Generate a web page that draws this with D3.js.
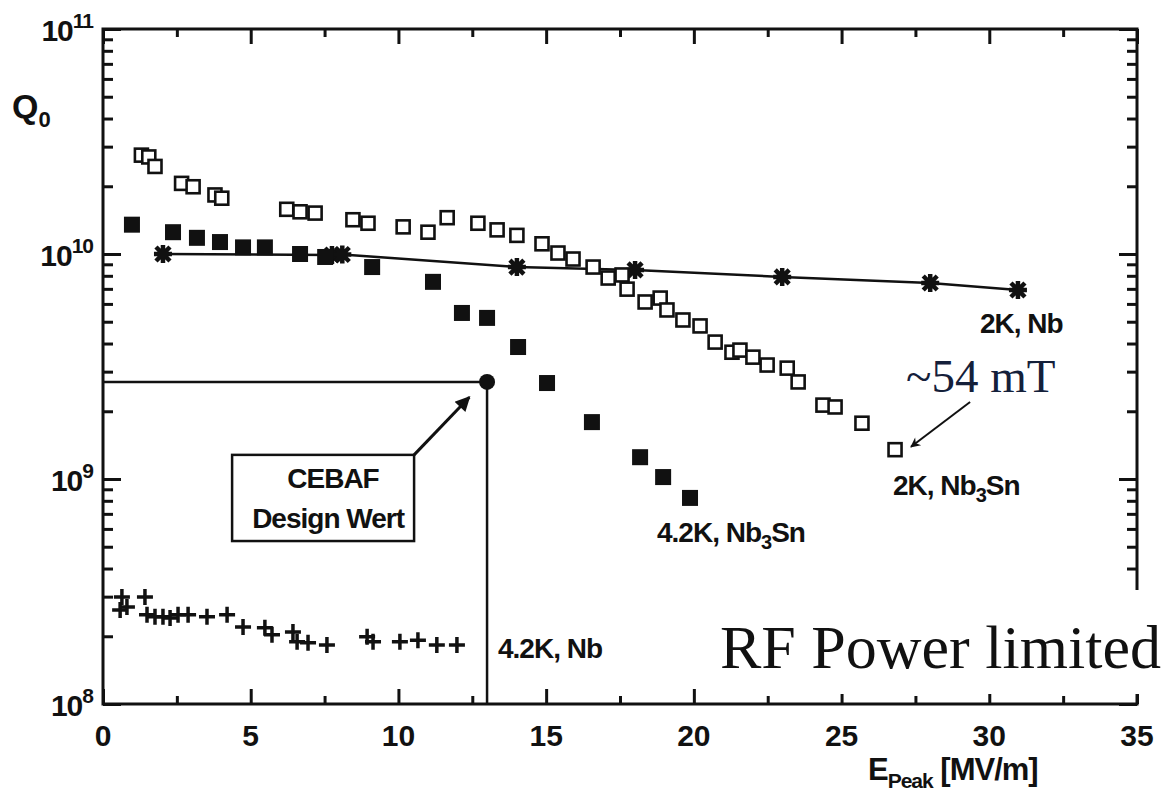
<!DOCTYPE html>
<html>
<head>
<meta charset="utf-8">
<script src="https://cdn.jsdelivr.net/npm/d3@7"></script>
<style>
  html, body { margin: 0; padding: 0; background: #fff; }
  svg text { font-family: "Liberation Sans", Arial, sans-serif; font-weight: bold; fill: #111; }
  .serif { font-family: "Liberation Serif", "Times New Roman", serif !important; font-weight: normal !important; }
</style>
</head>
<body>
<svg id="chart" width="1172" height="792"></svg>
<script>
// Q0 vs E_peak
// [E_peak in MV/m, Q0]
const nb3sn2K = [
  [1.3, 2.75e10], [1.55, 2.7e10], [1.76, 2.45e10], [2.66, 2.06e10], [3.05, 1.99e10],
  [3.79, 1.83e10], [4.02, 1.77e10], [6.22, 1.58e10], [6.67, 1.54e10], [7.18, 1.52e10],
  [8.46, 1.42e10], [8.97, 1.37e10], [10.16, 1.32e10], [11.0, 1.25e10], [11.65, 1.45e10],
  [12.69, 1.37e10], [13.34, 1.28e10], [14.01, 1.21e10], [14.86, 1.11e10], [15.4, 1.01e10],
  [15.91, 9.5e9], [16.59, 8.75e9], [17.1, 7.82e9], [17.57, 8.07e9], [17.74, 6.98e9],
  [18.35, 6.12e9], [18.86, 6.37e9], [19.09, 5.64e9], [19.63, 5.09e9], [20.21, 4.79e9],
  [20.72, 4.06e9], [21.29, 3.66e9], [21.56, 3.74e9], [22.0, 3.48e9], [22.48, 3.21e9],
  [23.16, 3.11e9], [23.53, 2.7e9], [24.37, 2.13e9], [24.78, 2.09e9], [25.69, 1.77e9],
  [26.81, 1.35e9]
];
const nb3sn42K = [
  [0.98, 1.35e10], [2.37, 1.25e10], [3.18, 1.18e10], [3.96, 1.13e10], [4.74, 1.07e10],
  [5.48, 1.07e10], [6.67, 1.0e10], [7.52, 9.7e9], [9.11, 8.75e9], [11.17, 7.52e9],
  [12.15, 5.47e9], [13.0, 5.2e9], [14.05, 3.86e9], [15.03, 2.67e9], [16.55, 1.79e9],
  [18.18, 1.25e9], [18.96, 1.02e9], [19.87, 8.24e8]
];
const nb2K = [
  [2.03, 1.0e10], [7.75, 9.9e9], [8.1, 9.95e9], [14.01, 8.75e9], [18.01, 8.5e9],
  [22.99, 7.91e9], [28.0, 7.43e9], [30.97, 6.92e9]
];
const nb42K = [
  [0.64, 2.99e8], [0.58, 2.62e8], [0.81, 2.7e8], [1.42, 2.99e8], [1.49, 2.49e8],
  [1.76, 2.44e8], [2.03, 2.44e8], [2.27, 2.41e8], [2.54, 2.49e8], [2.88, 2.49e8],
  [3.52, 2.44e8], [4.2, 2.49e8], [4.74, 2.2e8], [5.48, 2.18e8], [5.72, 2.03e8],
  [6.43, 2.09e8], [6.57, 1.89e8], [6.94, 1.87e8], [7.58, 1.83e8], [8.94, 1.99e8],
  [9.14, 1.89e8], [10.05, 1.89e8], [10.66, 1.92e8], [11.3, 1.83e8], [11.98, 1.83e8]
];
const designPoint = [13, 2.7e9];

const xMajor = [0, 5, 10, 15, 20, 25, 30, 35];
const xMinor = [2.5, 7.5, 12.5, 17.5, 22.5, 27.5, 32.5];
const yDecades = [8, 9, 10, 11];

const svg = d3.select('#chart');
const plotL = 103, plotR = 1137, plotT = 29, plotB = 704;

const x = d3.scaleLinear().domain([0, 35]).range([plotL, plotR]);
const y = d3.scaleLog().domain([1e8, 1e11]).range([plotB, plotT]);

const yMajor = yDecades.map(p => Math.pow(10, p));
const yMinor = [];
yDecades.slice(0, -1).forEach(p => { for (let k = 2; k < 10; k++) yMinor.push(k * Math.pow(10, p)); });

// ---- axes (ticks point inward)
function tickAxis(axis, pos, values, size) {
  const g = svg.append('g').attr('transform', pos)
    .call(axis.tickValues(values).tickSize(size).tickFormat(''));
  g.select('.domain').remove();
  g.selectAll('line').attr('stroke', '#111').attr('stroke-width', 3);
}
tickAxis(d3.axisBottom(x), `translate(0,${plotB})`, xMajor, -15);
tickAxis(d3.axisBottom(x), `translate(0,${plotB})`, xMinor, -8);
tickAxis(d3.axisTop(x), `translate(0,${plotT})`, xMajor, -15);
tickAxis(d3.axisTop(x), `translate(0,${plotT})`, xMinor, -8);
tickAxis(d3.axisLeft(y), `translate(${plotL},0)`, yMajor, -18);
tickAxis(d3.axisLeft(y), `translate(${plotL},0)`, yMinor, -10);
tickAxis(d3.axisRight(y), `translate(${plotR},0)`, yMajor, -18);
tickAxis(d3.axisRight(y), `translate(${plotR},0)`, yMinor, -10);

svg.append('rect')
  .attr('x', plotL).attr('y', plotT)
  .attr('width', plotR - plotL).attr('height', plotB - plotT)
  .attr('fill', 'none').attr('stroke', '#111').attr('stroke-width', 3);

// tick labels
svg.selectAll('text.xlab').data(xMajor).enter().append('text')
  .attr('class', 'xlab')
  .attr('x', d => x(d)).attr('y', plotB + 42)
  .attr('text-anchor', 'middle').attr('font-size', 30)
  .text(d => d);

const ylab = svg.selectAll('text.ylab').data(yDecades).enter().append('text')
  .attr('class', 'ylab')
  .attr('x', plotL - 10).attr('y', d => y(Math.pow(10, d)) + 12)
  .attr('text-anchor', 'end').attr('font-size', 30).attr('letter-spacing', -1);
ylab.append('tspan').text('10');
ylab.append('tspan').attr('dy', -13).attr('font-size', 21).text(d => d);

// axis titles
const qLab = svg.append('text').attr('x', 12).attr('y', 118).attr('font-size', 34);
qLab.append('tspan').text('Q');
qLab.append('tspan').attr('dy', 9).attr('font-size', 22).text('0');

const eLab = svg.append('text').attr('x', 868).attr('y', 780).attr('font-size', 31).attr('letter-spacing', -1);
eLab.append('tspan').text('E');
eLab.append('tspan').attr('dy', 8).attr('font-size', 21).text('Peak');
eLab.append('tspan').attr('dy', -8).text(' [MV/m]');

// ---- design value lines
svg.append('line')
  .attr('x1', plotL).attr('x2', x(designPoint[0]))
  .attr('y1', y(designPoint[1])).attr('y2', y(designPoint[1]))
  .attr('stroke', '#111').attr('stroke-width', 2.5);
svg.append('line')
  .attr('x1', x(designPoint[0])).attr('x2', x(designPoint[0]))
  .attr('y1', y(designPoint[1])).attr('y2', plotB)
  .attr('stroke', '#111').attr('stroke-width', 2.5);

// ---- 2K Nb line + stars
svg.append('path')
  .datum(nb2K)
  .attr('d', d3.line().x(d => x(d[0])).y(d => y(d[1])))
  .attr('fill', 'none').attr('stroke', '#111').attr('stroke-width', 2.5);

svg.selectAll('path.star').data(nb2K).enter().append('path')
  .attr('class', 'star')
  .attr('transform', d => `translate(${x(d[0])},${y(d[1])})`)
  .attr('d', 'M-9,0H9M0,-9V9M-7,-7L7,7M-7,7L7,-7')
  .attr('stroke', '#111').attr('stroke-width', 4.5);

// ---- 4.2K Nb pluses
svg.selectAll('path.plus').data(nb42K).enter().append('path')
  .attr('class', 'plus')
  .attr('transform', d => `translate(${x(d[0])},${y(d[1])})`)
  .attr('d', 'M-8,0H8M0,-8V8')
  .attr('stroke', '#111').attr('stroke-width', 3.5);

// ---- 4.2K Nb3Sn filled squares
svg.selectAll('rect.fsq').data(nb3sn42K).enter().append('rect')
  .attr('class', 'fsq')
  .attr('x', d => x(d[0]) - 8).attr('y', d => y(d[1]) - 8)
  .attr('width', 16).attr('height', 16)
  .attr('fill', '#111');

// ---- 2K Nb3Sn open squares
svg.selectAll('rect.osq').data(nb3sn2K).enter().append('rect')
  .attr('class', 'osq')
  .attr('x', d => x(d[0]) - 6.5).attr('y', d => y(d[1]) - 6.5)
  .attr('width', 13).attr('height', 13)
  .attr('fill', '#fff').attr('stroke', '#111').attr('stroke-width', 2.6);

// design point
svg.append('circle')
  .attr('cx', x(designPoint[0])).attr('cy', y(designPoint[1]))
  .attr('r', 8).attr('fill', '#111');

// ---- arrow markers
const defs = svg.append('defs');
defs.append('marker').attr('id', 'head').attr('viewBox', '0 0 10 10')
  .attr('refX', 9).attr('refY', 5).attr('markerWidth', 6).attr('markerHeight', 5)
  .attr('orient', 'auto').attr('markerUnits', 'strokeWidth')
  .append('path').attr('d', 'M0,0L10,5L0,10Z').attr('fill', '#111');
defs.append('marker').attr('id', 'head2').attr('viewBox', '0 0 10 10')
  .attr('refX', 9).attr('refY', 5).attr('markerWidth', 8).attr('markerHeight', 5)
  .attr('orient', 'auto').attr('markerUnits', 'strokeWidth')
  .append('path').attr('d', 'M0,0L10,5L0,10L3,5Z').attr('fill', '#111');

// CEBAF box
const box = { x0: 4.37, x1: 10.53, q0: 5.3e8, q1: 1.28e9 };
svg.append('rect')
  .attr('x', x(box.x0)).attr('y', y(box.q1))
  .attr('width', x(box.x1) - x(box.x0)).attr('height', y(box.q0) - y(box.q1))
  .attr('fill', '#fff').attr('stroke', '#111').attr('stroke-width', 2.5);
svg.append('line')
  .attr('x1', x(box.x1)).attr('y1', y(box.q1))
  .attr('x2', x(12.4)).attr('y2', y(2.31e9))
  .attr('stroke', '#111').attr('stroke-width', 3)
  .attr('marker-end', 'url(#head)');
svg.append('text').attr('x', 333).attr('y', 488).attr('text-anchor', 'middle')
  .attr('font-size', 28).attr('letter-spacing', -1).text('CEBAF');
svg.append('text').attr('x', 404).attr('y', 528).attr('text-anchor', 'end')
  .attr('font-size', 28).attr('letter-spacing', -1).text('Design Wert');

// ~54 mT
svg.append('line')
  .attr('x1', x(29.35)).attr('y1', y(2.2e9))
  .attr('x2', x(27.35)).attr('y2', y(1.39e9))
  .attr('stroke', '#111').attr('stroke-width', 2)
  .attr('marker-end', 'url(#head2)');
svg.append('text').attr('class', 'serif')
  .attr('x', 906).attr('y', 392).attr('font-size', 47)
  .style('fill', '#14203a').text('~54 mT');

// series labels
svg.append('text').attr('x', 980).attr('y', 333).attr('font-size', 28)
  .attr('letter-spacing', -1).text('2K, Nb');

function subLabel(tx, ty, a, sub, b) {
  const t = svg.append('text').attr('x', tx).attr('y', ty).attr('font-size', 28).attr('letter-spacing', -1);
  t.append('tspan').text(a);
  t.append('tspan').attr('dy', 7).attr('font-size', 20).text(sub);
  t.append('tspan').attr('dy', -7).text(b);
}
subLabel(893, 495, '2K, Nb', '3', 'Sn');
subLabel(657, 542, '4.2K, Nb', '3', 'Sn');
svg.append('text').attr('x', 498).attr('y', 658).attr('font-size', 28)
  .attr('letter-spacing', -1).text('4.2K, Nb');

// pasted text block sits on a white background that hides the right axis
svg.append('rect')
  .attr('x', 714).attr('y', 590).attr('width', 458).attr('height', 104)
  .attr('fill', '#fff');
svg.append('text').attr('class', 'serif')
  .attr('x', 720).attr('y', 668).attr('font-size', 62)
  .style('fill', '#111').text('RF Power limited');
</script>
</body>
</html>
